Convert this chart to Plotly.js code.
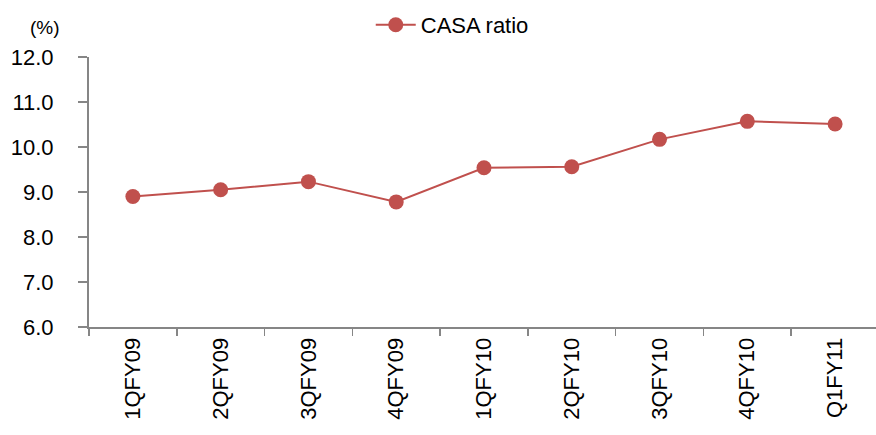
<!DOCTYPE html>
<html>
<head>
<meta charset="utf-8">
<script src="https://cdn.plot.ly/plotly-3.0.1.min.js"></script>
<style>html,body{margin:0;padding:0;background:#fff;}#chart{width:876px;height:435px;}</style>
</head>
<body>
<div id="chart"></div>
<script>
var categories = ["1QFY09","2QFY09","3QFY09","4QFY09","1QFY10","2QFY10","3QFY10","4QFY10","Q1FY11"];
var casaRatio = [8.90, 9.05, 9.23, 8.78, 9.54, 9.56, 10.17, 10.57, 10.51];
var yTickVals = [6,7,8,9,10,11,12];
var yTickText = ["6.0","7.0","8.0","9.0","10.0","11.0","12.0"];
var seriesName = "CASA ratio";
var unitLabel = "(%)";

var FONT = "Liberation Sans, Arial, sans-serif";
var AXIS = "#868686";

var trace = {
  x: categories,
  y: casaRatio,
  name: seriesName,
  type: "scatter",
  mode: "lines+markers",
  line: {color: "#C0504D", width: 2},
  marker: {color: "#C0504D", size: 15}
};

var layout = {
  width: 876,
  height: 435,
  margin: {l: 89, r: 0, t: 57, b: 108, autoexpand: false},
  paper_bgcolor: "#fff",
  plot_bgcolor: "#fff",
  font: {family: FONT, size: 22, color: "#000"},
  showlegend: true,
  legend: {
    orientation: "h",
    x: 0.358, xanchor: "left",
    y: 1.1185, yanchor: "middle",
    font: {family: FONT, size: 22, color: "#000"},
    itemwidth: 40
  },
  xaxis: {
    type: "category",
    range: [-0.5, 8.466],
    showgrid: false,
    zeroline: false,
    showline: true,
    linecolor: AXIS,
    linewidth: 2,
    ticks: "outside",
    tickson: "boundaries",
    ticklen: 7,
    tickwidth: 1.5,
    tickcolor: AXIS,
    tickangle: -90,
    tickfont: {family: FONT, size: 22, color: "#000"}
  },
  yaxis: {
    range: [6, 12],
    tickvals: yTickVals,
    ticktext: yTickText,
    showgrid: false,
    zeroline: false,
    showline: true,
    linecolor: AXIS,
    linewidth: 2,
    ticks: "outside",
    ticklen: 9,
    tickwidth: 1.5,
    tickcolor: AXIS,
    ticklabelstandoff: 20,
    tickfont: {family: FONT, size: 22, color: "#000"}
  },
  annotations: [{
    text: unitLabel,
    xref: "paper", yref: "paper",
    x: -0.078, y: 1.11,
    xanchor: "left", yanchor: "middle",
    showarrow: false,
    font: {family: FONT, size: 19, color: "#000"}
  }]
};

Plotly.newPlot("chart", [trace], layout, {displayModeBar: false, staticPlot: true});
</script>
</body>
</html>
